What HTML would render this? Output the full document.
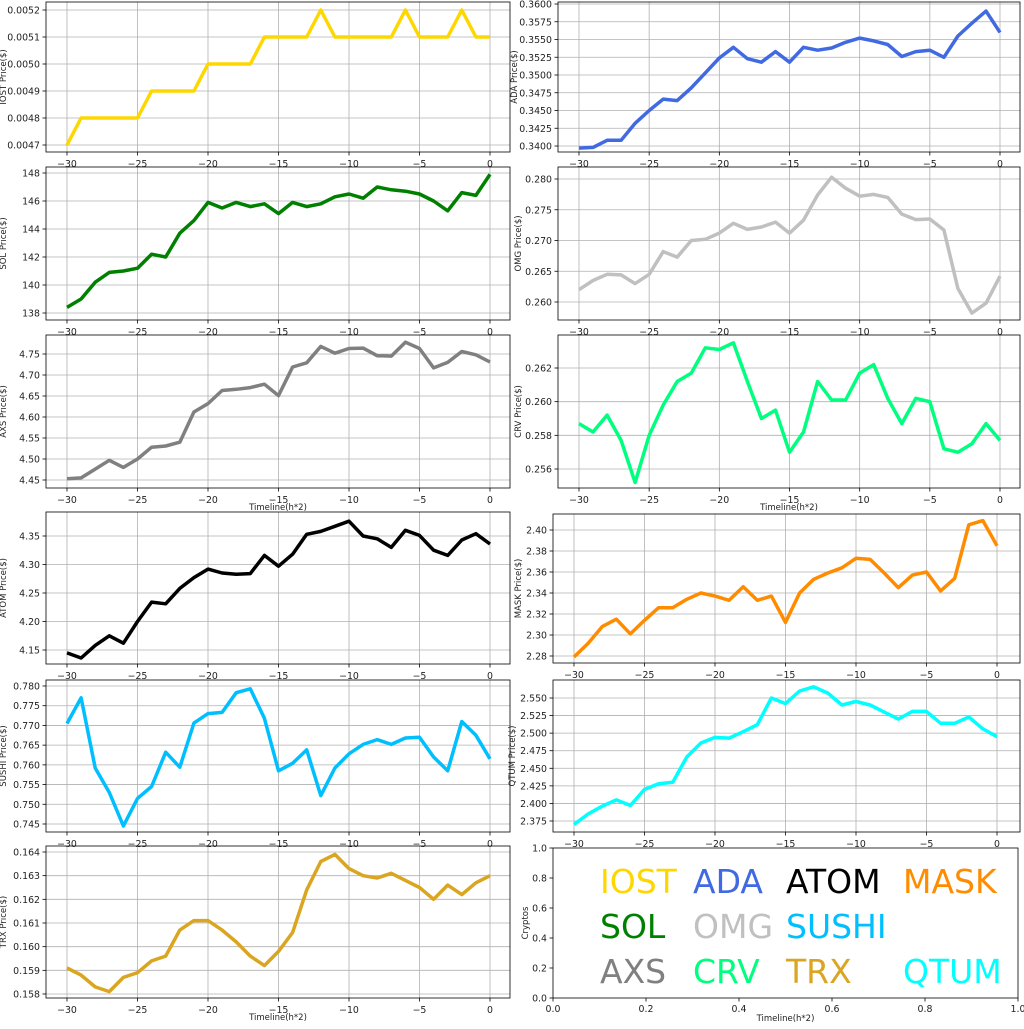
<!DOCTYPE html>
<html><head><meta charset="utf-8"><style>
html,body{margin:0;padding:0;background:#fff}
svg text{font-family:"DejaVu Sans","Liberation Sans",sans-serif}
</style></head><body>
<svg id="s" width="1024" height="1024" xmlns="http://www.w3.org/2000/svg"></svg>
<script>
const P=[
 {n:'IOST Price($)',c:'#FFD700',L:46,R:510,T:2,B:152,x30:67,x0:490,t:[0.0047,0.0052,0.0001,4],ty:[0.0052,10,0.0047,145],xl:0,
  d:[.0047,.0048,.0048,.0048,.0048,.0048,.0049,.0049,.0049,.0049,.005,.005,.005,.005,.0051,.0051,.0051,.0051,.0052,.0051,.0051,.0051,.0051,.0051,.0052,.0051,.0051,.0051,.0052,.0051,.0051]},
 {n:'SOL Price($)',c:'#008000',L:46,R:510,T:167,B:320,x30:67,x0:490,t:[138,148,2,0],ty:[148,173,138,313],xl:0,
  d:[138.4,139,140.2,140.9,141,141.2,142.2,142,143.7,144.6,145.9,145.5,145.9,145.6,145.8,145.1,145.9,145.6,145.8,146.3,146.5,146.2,147,146.8,146.7,146.5,146,145.3,146.6,146.4,147.9]},
 {n:'AXS Price($)',c:'#808080',L:46,R:510,T:335,B:488,x30:67,x0:490,t:[4.45,4.75,0.05,2],ty:[4.75,354,4.45,480],xl:1,
  d:[4.453,4.455,4.476,4.497,4.480,4.500,4.528,4.531,4.540,4.612,4.632,4.663,4.666,4.670,4.678,4.651,4.719,4.729,4.768,4.752,4.763,4.764,4.746,4.745,4.778,4.763,4.717,4.730,4.756,4.748,4.731]},
 {n:'ATOM  Price($)',c:'#000000',L:46,R:510,T:512,B:664,x30:67,x0:490,t:[4.15,4.35,0.05,2],ty:[4.35,536,4.15,650],xl:0,
  d:[4.145,4.136,4.158,4.175,4.162,4.200,4.234,4.231,4.258,4.277,4.292,4.285,4.283,4.284,4.316,4.297,4.318,4.353,4.358,4.367,4.376,4.350,4.345,4.330,4.360,4.351,4.325,4.316,4.343,4.354,4.336]},
 {n:'SUSHI Price($)',c:'#00BFFF',L:46,R:510,T:680,B:832,x30:67,x0:490,t:[0.745,0.78,0.005,3],ty:[0.78,686,0.745,824],xl:0,
  d:[.7705,.7770,.7592,.7530,.7445,.7515,.7545,.7632,.7594,.7706,.7730,.7733,.7783,.7793,.7718,.7585,.7604,.7638,.7522,.7592,.7628,.7652,.7664,.7652,.7668,.7670,.7620,.7585,.7710,.7675,.7615]},
 {n:'TRX Price($)',c:'#DAA520',L:46,R:510,T:846,B:998,x30:67,x0:490,t:[0.158,0.164,0.001,3],ty:[0.164,852,0.158,994],xl:1,
  d:[.1591,.1588,.1583,.1581,.1587,.1589,.1594,.1596,.1607,.1611,.1611,.1607,.1602,.1596,.1592,.1598,.1606,.1624,.1636,.1639,.1633,.1630,.1629,.1631,.1628,.1625,.1620,.1626,.1622,.1627,.1630]},
 {n:'ADA  Price($)',c:'#4169E1',L:558,R:1020,T:2,B:152,x30:579,x0:1000,t:[0.34,0.36,0.0025,4],ty:[0.36,4,0.34,146],xl:0,lx:517,
  d:[.3397,.3398,.3408,.3408,.3432,.3450,.3466,.3464,.3482,.3503,.3524,.3539,.3523,.3518,.3533,.3518,.3539,.3535,.3538,.3546,.3552,.3548,.3543,.3526,.3533,.3535,.3525,.3555,.3573,.3590,.3560]},
 {n:'OMG  Price($)',c:'#C0C0C0',L:558,R:1020,T:167,B:320,x30:579,x0:1000,t:[0.26,0.28,0.005,3],ty:[0.28,179,0.26,302],xl:0,lx:521,
  d:[.2620,.2635,.2645,.2644,.2630,.2645,.2682,.2673,.2700,.2702,.2712,.2728,.2718,.2722,.2730,.2712,.2733,.2774,.2803,.2785,.2772,.2775,.2770,.2743,.2734,.2735,.2717,.2622,.2582,.2598,.2642]},
 {n:'CRV  Price($)',c:'#00FF7F',L:558,R:1020,T:335,B:488,x30:579,x0:1000,t:[0.256,0.262,0.002,3],ty:[0.262,368,0.256,469],xl:1,lx:521,
  d:[.2587,.2582,.2592,.2577,.2552,.2580,.2598,.2612,.2617,.2632,.2631,.2635,.2612,.2590,.2595,.2570,.2582,.2612,.2601,.2601,.2617,.2622,.2602,.2587,.2602,.2600,.2572,.2570,.2575,.2587,.2577]},
 {n:'MASK  Price($)',c:'#FF8C00',L:553,R:1020,T:514,B:663,x30:574,x0:997,t:[2.28,2.4,0.02,2],ty:[2.4,530,2.28,656],xl:0,lx:521,
  d:[2.279,2.292,2.308,2.315,2.301,2.314,2.326,2.326,2.334,2.340,2.337,2.333,2.346,2.333,2.337,2.312,2.340,2.353,2.359,2.364,2.373,2.372,2.359,2.345,2.357,2.360,2.342,2.354,2.405,2.409,2.385]},
 {n:'QTUM Price($)',c:'#00FFFF',L:553,R:1020,T:680,B:832,x30:574,x0:997,t:[2.375,2.55,0.025,3],ty:[2.55,698,2.375,821],xl:0,lx:515,
  d:[2.370,2.385,2.396,2.405,2.397,2.420,2.428,2.430,2.466,2.486,2.494,2.493,2.502,2.512,2.550,2.542,2.560,2.566,2.557,2.540,2.545,2.540,2.530,2.520,2.531,2.531,2.514,2.514,2.523,2.506,2.495]}
];
let h='';
const G='#b0b0b0',TX='#222',FS=9.4;
function fmtX(v){return v<0?'\u2212'+(-v):''+v}
for(const p of P){
 const sx=v=>p.x30+(v+30)*(p.x0-p.x30)/30;
 const sy=v=>p.ty[1]+(v-p.ty[0])*(p.ty[3]-p.ty[1])/(p.ty[2]-p.ty[0]);
 for(let v=-30;v<=0;v+=5){const x=sx(v);
  h+=`<line x1="${x}" y1="${p.T}" x2="${x}" y2="${p.B}" stroke="${G}" stroke-width="0.8"/>`;
  h+=`<line x1="${x}" y1="${p.B}" x2="${x}" y2="${p.B+3.5}" stroke="#000" stroke-width="0.8"/>`;
  h+=`<text x="${x}" y="${p.B+15}" font-size="${FS}" text-anchor="middle" fill="${TX}">${fmtX(v)}</text>`;}
 const [a,b,st,dec]=p.t;const n=Math.round((b-a)/st);
 for(let i=0;i<=n;i++){const v=a+i*st;const y=sy(v);
  h+=`<line x1="${p.L}" y1="${y}" x2="${p.R}" y2="${y}" stroke="${G}" stroke-width="0.8"/>`;
  h+=`<line x1="${p.L-3.5}" y1="${y}" x2="${p.L}" y2="${y}" stroke="#000" stroke-width="0.8"/>`;
  h+=`<text x="${p.L-6}" y="${y+3.5}" font-size="${FS}" text-anchor="end" fill="${TX}">${v.toFixed(dec)}</text>`;}
 let pts=p.d.map((v,i)=>sx(i-30).toFixed(1)+','+sy(v).toFixed(1)).join(' ');
 h+=`<polyline points="${pts}" fill="none" stroke="${p.c}" stroke-width="3.5" stroke-linejoin="round"/>`;
 h+=`<rect x="${p.L}" y="${p.T}" width="${p.R-p.L}" height="${p.B-p.T}" fill="none" stroke="#000" stroke-width="0.8"/>`;
 const cy=(p.T+p.B)/2, lx=p.lx||(p.L>500?p.L-40:6);
 h+=`<text transform="translate(${lx},${cy}) rotate(-90)" font-size="8.5" text-anchor="middle" fill="${TX}">${p.n}</text>`;
 if(p.xl)h+=`<text x="${(p.L+p.R)/2}" y="${p.B+22}" font-size="8.5" text-anchor="middle" fill="${TX}">Timeline(h*2)</text>`;
}
const L=553,R=1018,T=848,B=998;
for(let i=0;i<=5;i++){const v=i*0.2;const x=L+(R-L)*v,y=B-(B-T)*v;
 h+=`<line x1="${x}" y1="${B}" x2="${x}" y2="${B+3.5}" stroke="#000" stroke-width="0.8"/>`;
 h+=`<text x="${x}" y="${B+14}" font-size="${FS}" text-anchor="middle" fill="${TX}">${v.toFixed(1)}</text>`;
 h+=`<line x1="${L-3.5}" y1="${y}" x2="${L}" y2="${y}" stroke="#000" stroke-width="0.8"/>`;
 h+=`<text x="${L-6}" y="${y+3.5}" font-size="${FS}" text-anchor="end" fill="${TX}">${v.toFixed(1)}</text>`;}
h+=`<rect x="${L}" y="${T}" width="${R-L}" height="${B-T}" fill="none" stroke="#000" stroke-width="0.8"/>`;
h+=`<text transform="translate(528,${(T+B)/2}) rotate(-90)" font-size="8.5" text-anchor="middle" fill="${TX}">Cryptos</text>`;
h+=`<text x="${(L+R)/2}" y="1021" font-size="8.5" text-anchor="middle" fill="${TX}">Timeline(h*2)</text>`;
const lg=[['IOST','#FFD700',600,893],['ADA','#4169E1',693,893],['ATOM','#000',786,893],['MASK','#FF8C00',903,893],
['SOL','#008000',600,938],['OMG','#C0C0C0',693,938],['SUSHI','#00BFFF',786,938],
['AXS','#808080',600,983],['CRV','#00FF7F',693,983],['TRX','#DAA520',786,983],['QTUM','#00FFFF',903,983]];
for(const [t,c,x,y] of lg)h+=`<text x="${x}" y="${y}" font-size="33" fill="${c}">${t}</text>`;
document.getElementById('s').innerHTML=h;
</script>
</body></html>
